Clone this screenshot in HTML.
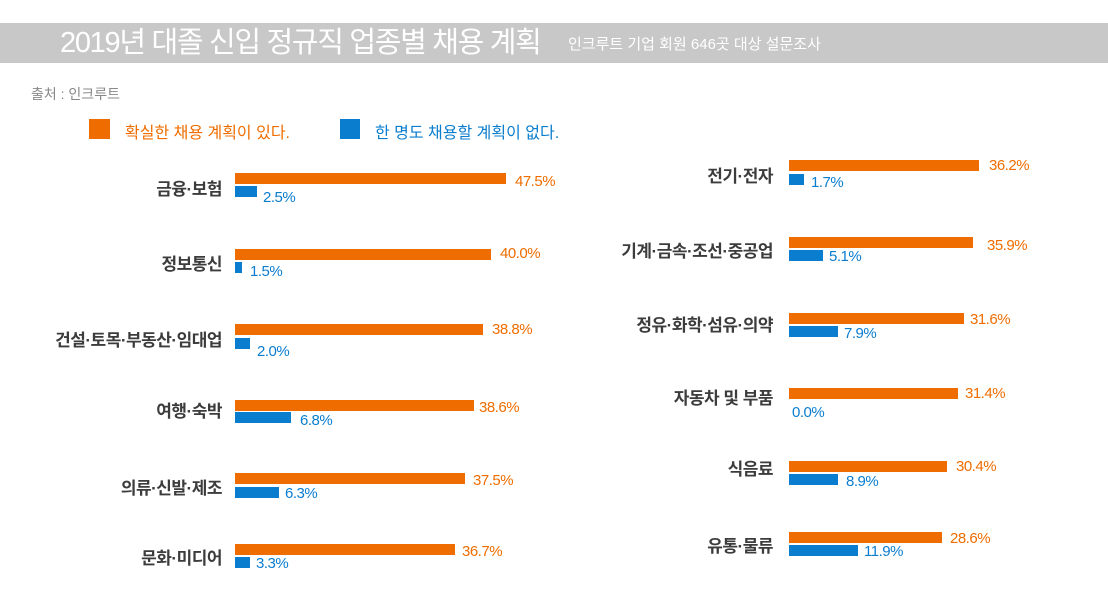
<!DOCTYPE html>
<html><head><meta charset="utf-8"><style>
body{margin:0;width:1108px;height:589px;background:#fff;position:relative;overflow:hidden;font-family:"Liberation Sans","Noto Sans CJK KR",sans-serif}
.a{position:absolute;white-space:nowrap}
.o{background:#ef6d00;height:11px;position:absolute}
.b{background:#0a7dcf;height:11px;position:absolute}
.to{position:absolute;color:#ef6d00;font-size:15px;line-height:15px;letter-spacing:-0.5px}
.tb{position:absolute;color:#0a7dcf;font-size:15px;line-height:15px;letter-spacing:-0.5px}
.l{position:absolute;font-size:17px;font-weight:bold;color:#3c3c3c;text-align:right;line-height:17px;letter-spacing:-0.5px;white-space:nowrap}
</style></head><body>
<div class="a" style="left:0;top:23px;width:1108px;height:40px;background:#c8c8c8"></div>
<div class="a" style="left:60px;top:26px;color:#fff;font-size:29px;line-height:34px;letter-spacing:-1.3px">2019년 대졸 신입 정규직 업종별 채용 계획</div>
<div class="a" style="left:568px;top:36px;color:#fff;font-size:15px;line-height:17px;letter-spacing:0">인크루트 기업 회원 646곳 대상 설문조사</div>
<div class="a" style="left:31px;top:84px;color:#888;font-size:14px">출처 : 인크루트</div>
<div class="a" style="left:89px;top:119px;width:21px;height:20px;background:#ef6d00"></div>
<div class="a" style="left:125px;top:119px;color:#ef6d00;font-size:16px;letter-spacing:0">확실한 채용 계획이 있다.</div>
<div class="a" style="left:340px;top:119px;width:20px;height:20px;background:#0a7dcf"></div>
<div class="a" style="left:375px;top:119px;color:#0a7dcf;font-size:16px;letter-spacing:0">한 명도 채용할 계획이 없다.</div>

<div class="l" style="left:0;width:222px;top:181px">금융·보험</div>
<div class="o" style="left:235px;top:173px;width:271px"></div><div class="b" style="left:235px;top:186px;width:22px"></div>
<div class="to" style="left:515px;top:174px">47.5%</div><div class="tb" style="left:263px;top:190px">2.5%</div>

<div class="l" style="left:0;width:222px;top:256px">정보통신</div>
<div class="o" style="left:235px;top:249px;width:256px"></div><div class="b" style="left:235px;top:262px;width:7px"></div>
<div class="to" style="left:500px;top:246px">40.0%</div><div class="tb" style="left:250px;top:264px">1.5%</div>

<div class="l" style="left:0;width:222px;top:332px">건설·토목·부동산·임대업</div>
<div class="o" style="left:235px;top:324px;width:248px"></div><div class="b" style="left:235px;top:338px;width:15px"></div>
<div class="to" style="left:492px;top:322px">38.8%</div><div class="tb" style="left:257px;top:344px">2.0%</div>

<div class="l" style="left:0;width:222px;top:403px">여행·숙박</div>
<div class="o" style="left:235px;top:400px;width:239px"></div><div class="b" style="left:235px;top:412px;width:56px"></div>
<div class="to" style="left:479px;top:400px">38.6%</div><div class="tb" style="left:300px;top:413px">6.8%</div>

<div class="l" style="left:0;width:222px;top:480px">의류·신발·제조</div>
<div class="o" style="left:235px;top:473px;width:230px"></div><div class="b" style="left:235px;top:487px;width:44px"></div>
<div class="to" style="left:473px;top:473px">37.5%</div><div class="tb" style="left:285px;top:486px">6.3%</div>

<div class="l" style="left:0;width:222px;top:550px">문화·미디어</div>
<div class="o" style="left:235px;top:544px;width:220px"></div><div class="b" style="left:235px;top:557px;width:15px"></div>
<div class="to" style="left:462px;top:544px">36.7%</div><div class="tb" style="left:256px;top:556px">3.3%</div>

<div class="l" style="left:540px;width:233px;top:168px">전기·전자</div>
<div class="o" style="left:789px;top:160px;width:190px"></div><div class="b" style="left:789px;top:174px;width:15px"></div>
<div class="to" style="left:989px;top:158px">36.2%</div><div class="tb" style="left:811px;top:175px">1.7%</div>

<div class="l" style="left:540px;width:233px;top:243px">기계·금속·조선·중공업</div>
<div class="o" style="left:789px;top:237px;width:184px"></div><div class="b" style="left:789px;top:250px;width:34px"></div>
<div class="to" style="left:987px;top:238px">35.9%</div><div class="tb" style="left:829px;top:249px">5.1%</div>

<div class="l" style="left:540px;width:233px;top:317px">정유·화학·섬유·의약</div>
<div class="o" style="left:789px;top:313px;width:175px"></div><div class="b" style="left:789px;top:326px;width:49px"></div>
<div class="to" style="left:970px;top:312px">31.6%</div><div class="tb" style="left:844px;top:326px">7.9%</div>

<div class="l" style="left:540px;width:233px;top:390px">자동차 및 부품</div>
<div class="o" style="left:789px;top:388px;width:169px"></div>
<div class="to" style="left:965px;top:386px">31.4%</div><div class="tb" style="left:792px;top:405px">0.0%</div>

<div class="l" style="left:540px;width:233px;top:461px">식음료</div>
<div class="o" style="left:789px;top:461px;width:158px"></div><div class="b" style="left:789px;top:474px;width:49px"></div>
<div class="to" style="left:956px;top:459px">30.4%</div><div class="tb" style="left:846px;top:474px">8.9%</div>

<div class="l" style="left:540px;width:233px;top:538px">유통·물류</div>
<div class="o" style="left:789px;top:532px;width:153px"></div><div class="b" style="left:789px;top:545px;width:69px"></div>
<div class="to" style="left:950px;top:531px">28.6%</div><div class="tb" style="left:864px;top:544px">11.9%</div>
</body></html>
